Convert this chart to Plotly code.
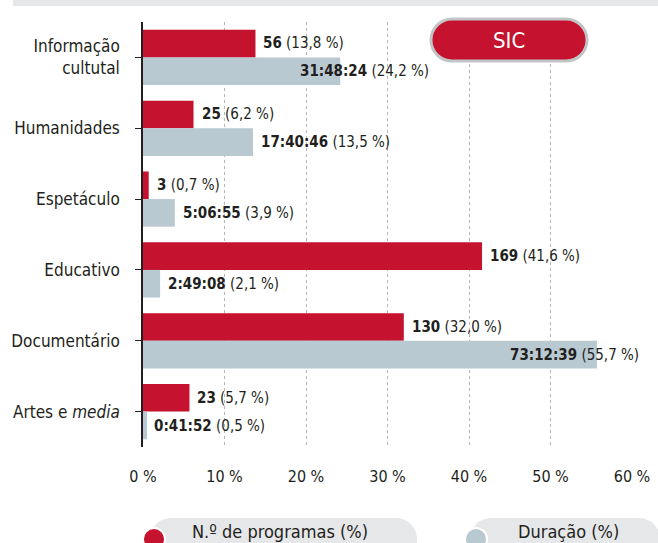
import plotly.graph_objects as go

categories = ["Informação<br>cultutal", "Humanidades", "Espetáculo", "Educativo", "Documentário", "Artes e <i>media</i>"]
prog_pct = [13.8, 6.2, 0.7, 41.6, 32.0, 5.7]
prog_n = ["56", "25", "3", "169", "130", "23"]
prog_pct_txt = ["13,8", "6,2", "0,7", "41,6", "32,0", "5,7"]
dur_pct = [24.2, 13.5, 3.9, 2.1, 55.7, 0.5]
dur_time = ["31:48:24", "17:40:46", "5:06:55", "2:49:08", "73:12:39", "0:41:52"]
dur_pct_txt = ["24,2", "13,5", "3,9", "2,1", "55,7", "0,5"]
xticks = [0, 10, 20, 30, 40, 50, 60]

RED = "#c4122f"
GREY = "#b9c9d2"
DARK = "#231f20"
FONT = "DejaVu Sans Condensed, Roboto, sans-serif"

W, H = 658, 543
L, R, T, B = 143, 26, 22, 96
PW, PH = W - L - R, H - T - B

def px(x):
    return (x - L) / PW

def py(y):
    return (H - B - y) / PH

def pill(x0, y0, x1, y1):
    r = (y1 - y0) / 2
    k = 0.5523 * r
    pts = []
    pts.append("M%.5f,%.5f" % (px(x0 + r), py(y0)))
    pts.append("L%.5f,%.5f" % (px(x1 - r), py(y0)))
    pts.append("C%.5f,%.5f %.5f,%.5f %.5f,%.5f" % (px(x1 - r + k), py(y0), px(x1), py(y0 + r - k), px(x1), py(y0 + r)))
    pts.append("C%.5f,%.5f %.5f,%.5f %.5f,%.5f" % (px(x1), py(y0 + r + k), px(x1 - r + k), py(y1), px(x1 - r), py(y1)))
    pts.append("L%.5f,%.5f" % (px(x0 + r), py(y1)))
    pts.append("C%.5f,%.5f %.5f,%.5f %.5f,%.5f" % (px(x0 + r - k), py(y1), px(x0), py(y0 + r + k), px(x0), py(y0 + r)))
    pts.append("C%.5f,%.5f %.5f,%.5f %.5f,%.5f" % (px(x0), py(y0 + r - k), px(x0 + r - k), py(y0), px(x0 + r), py(y0)))
    pts.append("Z")
    return " ".join(pts)

fig = go.Figure()
fig.add_trace(go.Bar(y=categories, x=prog_pct, orientation="h", marker=dict(color=RED, line=dict(width=0)),
                     name="N.º de programas (%)", hoverinfo="x+y"))
fig.add_trace(go.Bar(y=categories, x=dur_pct, orientation="h", marker=dict(color=GREY, line=dict(width=0)),
                     name="Duração (%)", hoverinfo="x+y"))

annotations = []
dur_shift = [-42, 6, 6, 6, -89, 5]
for i, c in enumerate(categories):
    annotations.append(dict(x=prog_pct[i], y=c, xref="x", yref="y", xanchor="left", yanchor="middle",
                            xshift=6, yshift=14, showarrow=False,
                            text="<b>%s</b> (%s %%)" % (prog_n[i], prog_pct_txt[i]),
                            font=dict(family=FONT, size=15, color=DARK)))
    annotations.append(dict(x=dur_pct[i], y=c, xref="x", yref="y", xanchor="left", yanchor="middle",
                            xshift=dur_shift[i], yshift=-14, showarrow=False,
                            text="<b>%s</b> (%s %%)" % (dur_time[i], dur_pct_txt[i]),
                            font=dict(family=FONT, size=15, color=DARK)))

shapes = []
# top band
shapes.append(dict(type="rect", xref="paper", yref="paper", x0=px(13), x1=px(658), y0=py(0), y1=py(6),
                   fillcolor="#e6e7e9", line=dict(width=0), layer="below"))
# SIC pill
shapes.append(dict(type="path", xref="paper", yref="paper", path=pill(431, 19, 587, 61),
                   fillcolor=RED, line=dict(color="#c2c4c6", width=3)))
annotations.append(dict(x=px(509), y=py(40), xref="paper", yref="paper", xanchor="center", yanchor="middle",
                        showarrow=False, text="SIC",
                        font=dict(family=FONT, size=22, color="white")))
# legend pills
shapes.append(dict(type="path", xref="paper", yref="paper", path=pill(150, 518, 417, 560),
                   fillcolor="#e6e7e9", line=dict(width=0)))
shapes.append(dict(type="path", xref="paper", yref="paper", path=pill(470, 518, 660, 560),
                   fillcolor="#e6e7e9", line=dict(width=0)))
shapes.append(dict(type="circle", xref="paper", yref="paper", x0=px(143), x1=px(165), y0=py(528), y1=py(550),
                   fillcolor=RED, line=dict(color="white", width=2)))
shapes.append(dict(type="circle", xref="paper", yref="paper", x0=px(465), x1=px(487), y0=py(528), y1=py(550),
                   fillcolor=GREY, line=dict(color="white", width=2)))
annotations.append(dict(x=px(280), y=py(531), xref="paper", yref="paper", xanchor="center", yanchor="middle",
                        showarrow=False,
                        text="N.º de programas (%)", font=dict(family=FONT, size=18, color=DARK)))
annotations.append(dict(x=px(568), y=py(531), xref="paper", yref="paper", xanchor="center", yanchor="middle",
                        showarrow=False,
                        text="Duração (%)", font=dict(family=FONT, size=18, color=DARK)))

fig.update_layout(
    width=W, height=H, margin=dict(l=L, r=R, t=T, b=B, autoexpand=False),
    paper_bgcolor="white", plot_bgcolor="white",
    barmode="group", bargap=0.22, bargroupgap=0,
    showlegend=False,
    font=dict(family=FONT, size=17, color=DARK),
    xaxis=dict(range=[0, 60], tickvals=xticks, ticktext=["%d %%" % v for v in xticks],
               showgrid=True, gridcolor="#b5b5b5", griddash="3px,3px", gridwidth=1,
               zeroline=False, showline=False, ticks="", ticklabelstandoff=18, automargin=False,
               tickfont=dict(family=FONT, size=16, color=DARK)),
    yaxis=dict(autorange="reversed", showline=True, linecolor=DARK, linewidth=1.5, automargin=False,
               ticks="outside", ticklen=6, tickcolor=DARK, tickwidth=1.2, ticklabelstandoff=12,
               tickfont=dict(family=FONT, size=17, color=DARK), showgrid=False),
    shapes=shapes, annotations=annotations,
)

fig.write_html("out.html", config={"displayModeBar": False},
               post_script="document.body.style.margin='0';document.body.style.overflow='hidden';")
